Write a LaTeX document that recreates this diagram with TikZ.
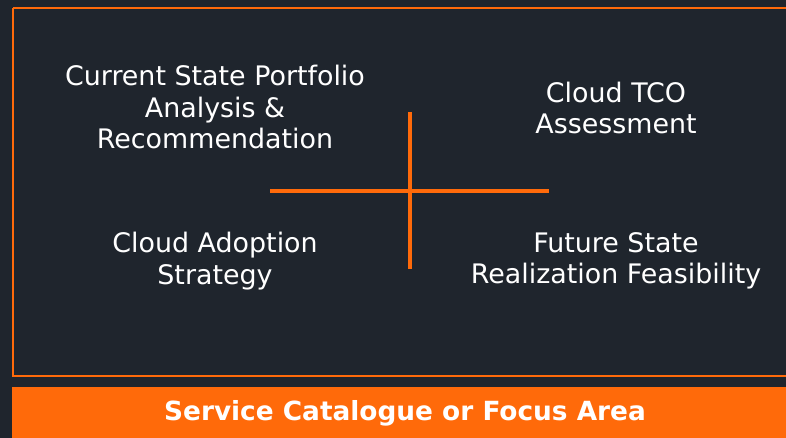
\documentclass[tikz,border=0pt]{standalone}
\usepackage{fontspec}
\setmainfont{DejaVu Sans}
\definecolor{slate}{HTML}{1F252D}
\definecolor{tangerine}{HTML}{FF6A0A}
\begin{document}
\begin{tikzpicture}[x=0.02cm, y=-0.02cm,
      every node/.style = {align=center, text=white, inner sep=0pt},
      quad/.style = {font=\fontsize{15.3}{17.9}\selectfont},
      barlabel/.style = {font=\bfseries\fontsize{15}{17}\selectfont},
      axis/.style = {draw=tangerine, line width=1.8pt}]
      \fill[slate] (0,0) rectangle (786,438);
      \useasboundingbox (0,0) rectangle (786,438);
      \draw[tangerine, line width=1.4pt] (13,8) -- (790,8) (13,8) -- (13,376) -- (790,376);
      \fill[tangerine] (12,387) rectangle (786,438);
      % quadrants
      \node[quad] (portfolio) at (215,107) {Current State Portfolio\\Analysis \&\\Recommendation};
      \node[quad] (tco) at (616,108) {Cloud TCO\\Assessment};
      \node[quad] (adoption) at (215,261) {Cloud Adoption\\Strategy};
      \node[quad] (future) at (616,261) {Future State\\Realization Feasibility};
      \node[barlabel] (focus) at (405,413) {Service Catalogue or Focus Area};
      % cross
      \coordinate (west) at (270,191);
      \coordinate (east) at (549,191);
      \coordinate (north) at (410,112);
      \coordinate (south) at (410,269);
      \draw[axis] (west) -- (east);
      \draw[axis] (north) -- (south);
\end{tikzpicture}
\end{document}
